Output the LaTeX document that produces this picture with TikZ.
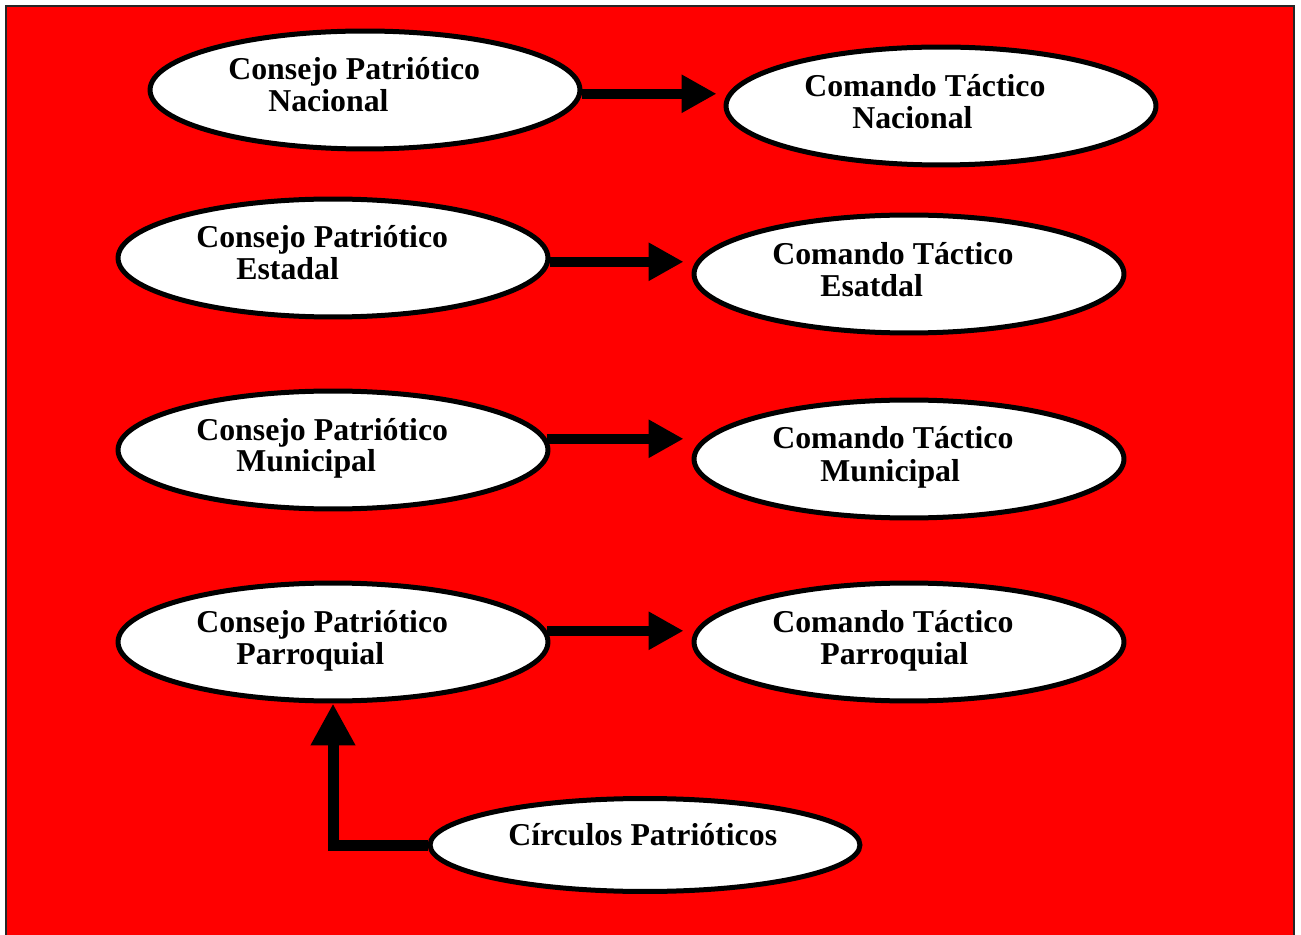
\documentclass[tikz,border=0pt]{standalone}
\usepackage{fontspec}
\setmainfont{Liberation Serif}
\usetikzlibrary{shapes.geometric,arrows.meta,calc}
\definecolor{bgred}{RGB}{255,0,0}
\begin{document}
\begin{tikzpicture}[x=0.02cm,y=-0.02cm,
  ell/.style={draw=black,fill=white,ellipse,line width=0.1cm,minimum width=8.6cm,minimum height=2.36cm,inner sep=0pt},
  lbl/.style={anchor=base west,inner sep=0pt,font=\fontsize{18.1}{18}\selectfont\bfseries},
  arr/.style={line width=0.19cm,-{Triangle[length=0.7cm,width=0.72cm]}},
  arrv/.style={line width=0.22cm,line join=miter,-{Triangle[length=0.84cm,width=0.84cm]}}]
\useasboundingbox (0,0) rectangle (1301,934.4);
\fill[white] (0,0) rectangle (1301,934.4);
\filldraw[fill=bgred,draw=black!85,line width=0.04cm] (6,6) rectangle (1294,1000);
% ellipses
\node[ell] (cpn) at (365,90) {};
\node[ell] (ctn) at (941,106) {};
\node[ell] (cpe) at (333,258) {};
\node[ell] (cte) at (909,274) {};
\node[ell] (cpm) at (333,450) {};
\node[ell] (ctm) at (909,459) {};
\node[ell] (cpp) at (333,642) {};
\node[ell] (ctp) at (909,642) {};
\node[ell,minimum height=1.86cm] (cir) at (645,845) {};
% labels
\node[lbl] (t1a) at (228,80) {Consejo Patriótico};
\node[lbl] (t1b) at (268,112) {Nacional};
\node[lbl] (t2a) at (804,97) {Comando Táctico};
\node[lbl] (t2b) at (852,129) {Nacional};
\node[lbl] (t3a) at (196,248) {Consejo Patriótico};
\node[lbl] (t3b) at (236,280) {Estadal};
\node[lbl] (t4a) at (772,265) {Comando Táctico};
\node[lbl] (t4b) at (820,297) {Esatdal};
\node[lbl] (t5a) at (196,440) {Consejo Patriótico};
\node[lbl] (t5b) at (236,472) {Municipal};
\node[lbl] (t6a) at (772,449) {Comando Táctico};
\node[lbl] (t6b) at (820,481) {Municipal};
\node[lbl] (t7a) at (196,632) {Consejo Patriótico};
\node[lbl] (t7b) at (236,664) {Parroquial};
\node[lbl] (t8a) at (772,632) {Comando Táctico};
\node[lbl] (t8b) at (820,664) {Parroquial};
\node[lbl] (t9a) at (508,845) {Círculos Patrióticos};
% connectors
\draw[arr,shorten >=0.14cm] (cpn.-1) coordinate (a1) -- (a1 -| ctn.west);
\draw[arr,shorten >=0.16cm] (cpe.-1.3) coordinate (a2) -- (a2 -| cte.west);
\draw[arr,shorten >=0.16cm] (cpm.3.2) coordinate (a3) -- (a3 -| ctm.west);
\draw[arr,shorten >=0.16cm] (cpp.3.2) coordinate (a4) -- (a4 -| ctp.west);
\draw[arrv] (cir.west) -| (cpp.south);
\end{tikzpicture}
\end{document}
